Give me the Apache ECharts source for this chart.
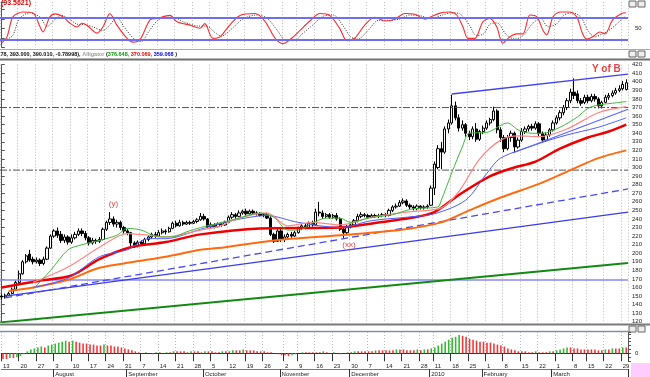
<!DOCTYPE html>
<html>
<head>
<meta charset="utf-8">
<script src="https://cdn.jsdelivr.net/npm/echarts@6/dist/echarts.min.js"></script>
<style>
html, body { margin: 0; padding: 0; background: #fff; }
#chart { width: 650px; height: 377px; }
</style>
</head>
<body>
<div id="chart"></div>
<script>
// daily candles [open, close, low, high]
var candles = [
  [150,149,146,152],[149,151,147,153],[151,153,150,155],[153,158,152,160],[158,166,157,168],[166,176,164,180],[176,190,175,192],[190,197,188,199],[199,192,190,204],[193,190,187,196],
  [190,192,188,195],[192,188,185,194],[188,193,186,196],[193,206,192,208],[206,220,205,222],[220,226,218,228],[226,221,218,230],[222,215,212,226],[215,219,212,222],[219,213,210,221],
  [213,218,211,222],[218,222,216,225],[222,226,220,229],[226,223,220,229],[223,218,215,226],[218,212,209,220],[212,215,210,218],[215,214,211,217],[214,216,212,219],[216,228,215,230],
  [228,236,226,238],[236,240,233,248],[240,234,231,243],[234,236,230,239],[236,230,227,238],[230,226,223,232],[226,224,221,228],[224,212,208,225],[212,209,206,214],[209,213,207,215],
  [213,211,209,215],[211,216,210,218],[216,219,214,221],[219,222,217,224],[222,220,218,225],[220,224,219,227],[224,226,222,229],[226,225,222,228],[225,229,224,231],[229,235,228,237],
  [235,232,230,238],[232,236,231,239],[236,234,232,238],[234,236,233,238],[236,235,233,238],[235,237,234,239],[237,239,235,241],[239,243,238,247],[243,240,238,246],[240,231,229,241],
  [231,233,229,236],[233,231,229,235],[231,234,230,236],[234,233,231,236],[233,236,232,238],[236,242,235,244],[242,245,240,248],[245,243,240,247],[243,247,242,250],[247,249,245,251],
  [249,246,244,252],[246,249,245,251],[249,247,245,251],[247,246,244,249],[246,244,243,248],[244,245,242,247],[245,241,240,247],[241,222,220,243],[222,214,212,224],[214,226,213,228],
  [226,216,213,229],[216,219,213,222],[219,222,217,224],[222,220,218,225],[220,224,219,226],[224,229,223,231],[229,232,227,234],[232,230,228,235],[230,235,229,237],[235,233,231,238],
  [233,248,232,252],[248,247,243,260],[247,243,240,250],[243,245,241,247],[245,242,240,247],[242,244,240,246],[244,240,238,247],[240,228,226,242],[228,224,218,230],[224,231,222,233],
  [231,233,229,236],[233,238,232,240],[238,243,236,246],[243,245,241,248],[245,244,242,247],[244,242,240,246],[242,244,241,246],[244,243,241,246],[243,244,241,246],[244,245,242,247],
  [245,244,242,247],[244,250,243,252],[250,254,248,256],[254,255,252,258],[255,259,254,262],[259,261,257,264],[261,256,254,263],[256,254,251,258],[254,252,250,256],[252,255,250,257],
  [255,253,251,256],[253,254,251,256],[254,255,252,257],[256,276,255,279],[276,304,268,307],[300,322,298,326],[322,318,298,330],[318,345,316,348],[345,352,340,356],[352,372,350,385],
  [372,358,355,377],[358,346,342,362],[346,350,343,355],[350,340,336,352],[340,336,332,343],[336,345,333,348],[345,333,330,352],[333,342,331,344],[342,346,339,349],[346,352,344,355],
  [352,356,349,358],[356,366,354,371],[366,344,340,368],[344,335,330,347],[335,322,318,338],[322,335,320,338],[335,340,330,343],[340,324,318,342],[324,332,322,335],[332,342,330,346],
  [342,345,339,348],[345,348,342,350],[348,346,343,351],[346,351,344,354],[351,340,336,353],[340,332,329,342],[332,338,330,341],[338,344,336,346],[344,352,342,355],[352,358,350,361],
  [358,364,355,367],[364,370,361,373],[370,378,367,381],[378,388,375,392],[388,384,380,404],[386,378,375,390],[378,375,372,381],[376,382,374,385],[382,378,375,385],[378,383,376,386],
  [383,380,377,386],[380,372,369,382],[372,376,369,378],[376,382,375,385],[382,384,379,387],[384,387,382,390],[387,390,385,393],[390,392,388,396],[392,397,390,401],[391,399,390,403]
];

// oscillator histogram (bottom panel)
var histValues = [
  -6,-6,-5,-5,-4,-3,-1,2,4,5,
  6,7,6,8,9,10,11,12,13,12,
  13,12,11,10,10,9,9,8,8,9,
  8,8,7,7,6,5,4,3,2,1,
  0,1,0,-1,1,1,0,1,1,2,
  2,2,2,1,2,2,2,1,2,2,
  2,1,1,2,2,2,3,3,3,4,
  3,3,3,2,2,2,1,1,0,-1,
  -2,-2,-3,-2,-1,0,1,1,1,1,
  1,1,2,1,0,1,0,-1,0,1,
  1,2,2,2,2,2,2,3,3,3,
  3,3,3,4,4,4,3,3,3,4,
  3,4,4,5,6,8,10,12,14,16,
  17,19,18,17,15,14,13,12,12,11,
  11,10,9,8,7,5,4,3,2,2,
  2,1,1,2,1,1,1,2,2,3,
  4,5,6,6,5,5,4,4,4,4,
  4,3,3,4,4,5,5,5,6,6
];

// moving averages, [day index, value]
var lipsGreen = [[9,158],[14,180],[19,204],[23,210],[28,215],[33,221],[36,229],[40,227],[45,219],[49,219],[53,225],[57,230],[62,235],[68,241],[74,247],[78,242],[82,227],[85,227],[89,235],[93,241],[97,241],[100,236],[105,241],[112,245],[118,252],[125,254],[126,262],[129,294],[132,324],[134,340],[139,341],[145,352],[148,344],[152,340],[155,340],[160,347],[165,359],[168,369],[171,373],[175,375],[179,377]];
var teethRed = [[9,166],[19,184],[28,207],[36,223],[42,221],[47,219],[57,227],[62,231],[66,238],[72,245],[76,247],[82,232],[89,236],[97,233],[106,242],[116,248],[126,253],[131,272],[137,310],[143,332],[148,337],[154,336],[162,345],[171,364],[179,371]];
var jawBlue = [[9,160],[19,171],[28,196],[36,204],[42,217],[47,217],[57,228],[66,238],[76,244],[85,236],[97,230],[106,238],[116,242],[124,246],[133,262],[139,293],[143,311],[154,328],[162,338],[171,347],[179,358]];
var maRed = [[0,160],[11,168],[20,174],[28,193],[37,207],[47,213],[57,222],[74,229],[97,230],[108,236],[117,241],[124,248],[131,268],[140,290],[146,299],[153,307],[160,322],[168,335],[174,342],[179,350]];
var maOrange = [[2,156],[9,160],[19,169],[28,183],[38,190],[47,196],[57,204],[62,206],[78,215],[97,221],[114,227],[126,236],[134,250],[143,265],[154,281],[163,297],[171,311],[179,320]];

// drawn trend lines and levels
var channelTop = [[129,385.8],[179.5,409]];
var channelLow = [[146.5,317],[179.5,368]];
var trendSolid = [[1,150],[179.5,248]];
var trendDash = [[1,148],[179.5,275]];
var trendGreen = [[-0.5,119.2],[179.5,188.7]];
var supportLevel = 168.8;
var fibLevels = [370, 297];

// stochastic %K / %D
var stochK = [[0,12],[1.5,28],[3.2,81],[6.1,94],[9,91],[11,54],[11.8,41],[13.8,81],[15.3,89],[17.6,81],[19.6,64],[21.6,54],[23,64],[24.4,59],[27.3,38],[29,54],[31,90],[33,59],[35.9,24],[37.6,14],[39.6,20],[42.5,73],[44.5,77],[48.2,85],[50.2,68],[54,59],[56.8,51],[58.2,63],[60.5,24],[62.5,28],[65.4,60],[68.3,85],[72.6,90],[75.4,70],[78.3,25],[80.6,10],[83.2,25],[85.5,45],[88.3,70],[91.2,90],[94,85],[96.9,50],[98.9,18],[101.2,25],[104.1,60],[107,80],[109.8,70],[112.7,75],[115.5,90],[118.4,88],[121.3,75],[122.7,80],[125.6,91],[128.4,94],[130.4,86],[132.2,54],[133.6,24],[135.6,24],[137.9,68],[139.9,77],[141.9,54],[143.6,11],[145.6,28],[147.6,36],[149.4,36],[151.4,86],[153.4,81],[155.1,46],[156.2,33],[158,81],[160,94],[162.8,94],[164.8,81],[166.5,36],[167.7,22],[169.4,28],[171.4,41],[172.9,36],[175.1,73],[177.7,90],[178.9,92]];
var stochD = [[0,18],[3,30],[5,75],[8,92],[11,80],[13,55],[15,72],[17,85],[19,78],[21.5,62],[24,60],[26,55],[29,45],[31,60],[33,80],[35,55],[38,22],[40,16],[42,40],[44.5,70],[47,80],[50,78],[52,68],[56,57],[59,56],[61,40],[63,30],[66,50],[69,75],[73,86],[76,78],[79,45],[81.5,18],[84,18],[86,35],[89,58],[92,82],[95,86],[98,55],[100,28],[102,22],[105,45],[108,72],[111,72],[114,75],[117,86],[120,84],[123,76],[126,85],[129,92],[131.5,88],[134,60],[136,32],[138,35],[140,62],[142,65],[144.5,35],[147,22],[149.5,32],[152,62],[154.5,78],[156.5,55],[159,62],[161,85],[163.5,92],[166,80],[168,45],[170,28],[172,35],[174,45],[176,60],[178.5,82]];
var stochLevels = [80, 20];

// x axis labels
var weekLabels = ['13','20','27','3','10','17','24','31','7','14','21','28','5','12','19','26','2','9','16','23','30','7','14','21','28','11','18','25','1','8','15','22','1','8','15','22','29'];
var weekStarts = [0,5,10,15,20,25,30,35,40,45,50,55,60,65,70,75,81,85,90,95,100,105,110,115,120,124,129,134,139,144,149,154,159,164,168,173,178];
var monthLabels = ['August','September','October','November','December','2010','February','March'];
var monthStarts = [15,36,58,80,100,123,138,158];

// annotations
var notes = [
  { text: 'Y of B', day: 173.3, value: 414.4, size: 10, weight: 'bold' },
  { text: '(y)', day: 32, value: 258, size: 8, weight: 'normal' },
  { text: '(xx)', day: 99.5, value: 210, size: 8, weight: 'normal' }
];

var N = candles.length;
var days = [];
var months = [];
for (var i = 0; i < N; i++) { days.push(''); months.push(''); }
weekStarts.forEach(function (d, k) { days[d] = weekLabels[k]; });
monthStarts.forEach(function (d, k) { months[d] = monthLabels[k]; });

var FONT = '"Liberation Sans", Arial, sans-serif';
var isMark = function (idx, val) { return val !== ''; };
var dotted = { show: true, interval: isMark, lineStyle: { color: '#b8b8b8', type: [1, 2], width: 1 } };

function catAxis(grid, data) {
  return {
    type: 'category', gridIndex: grid, data: data, boundaryGap: true,
    axisLine: { show: false }, axisTick: { show: false }, axisLabel: { show: false },
    splitLine: dotted
  };
}
function valAxis(grid) {
  return { type: 'value', gridIndex: grid, min: -0.5, max: N - 0.5, show: false };
}
function lineSeries(data, color, width, type, x, y, smooth) {
  return {
    type: 'line', xAxisIndex: x, yAxisIndex: y, data: data, symbol: 'none',
    smooth: smooth || false, silent: true,
    lineStyle: { color: color, width: width, type: type || 'solid' }
  };
}

var chart = echarts.init(document.getElementById('chart'), null, { renderer: 'canvas' });

var series = [];
// stochastic panel
series.push(lineSeries(stochD, '#333', 1, [1, 1.5], 1, 0, 0.3));
var kSeries = lineSeries(stochK, '#ff2b2b', 1.1, 'solid', 1, 0, 0.3);
kSeries.markLine = {
  silent: true, symbol: 'none', label: { show: false },
  lineStyle: { color: '#6e6ef5', width: 2, type: 'solid' },
  data: stochLevels.map(function (v) { return { yAxis: v }; })
};
series.push(kSeries);

// main panel: levels and trend lines
series.push(lineSeries([[-0.5, supportLevel], [N - 0.5, supportLevel]], '#8a8af8', 1.5, 'solid', 3, 1));
fibLevels.forEach(function (v) {
  series.push(lineSeries([[-0.5, v], [N - 0.5, v]], '#555', 1, [7, 2, 2, 2], 3, 1));
});
series.push(lineSeries(trendGreen, '#128a12', 2, 'solid', 3, 1));
series.push(lineSeries(trendSolid, '#3b3bea', 1.3, 'solid', 3, 1));
series.push(lineSeries(trendDash, '#4a4af0', 1.3, [7, 4], 3, 1));
series.push(lineSeries(maOrange, '#ff6a10', 2, 'solid', 3, 1, 0.3));
series.push(lineSeries(maRed, '#ee0000', 2.5, 'solid', 3, 1, 0.3));
series.push({
  type: 'candlestick', xAxisIndex: 2, yAxisIndex: 1, data: candles, barWidth: 2.8, silent: true,
  itemStyle: { color: '#fff', color0: '#000', borderColor: '#000', borderColor0: '#000', borderWidth: 1 }
});
series.push(lineSeries(jawBlue, '#4d5cff', 1, 'solid', 3, 1, 0.3));
series.push(lineSeries(teethRed, '#ff8585', 1.2, 'solid', 3, 1, 0.3));
series.push(lineSeries(lipsGreen, '#3dbb3d', 1, 'solid', 3, 1, 0.3));
series.push(lineSeries(channelTop, '#4141ee', 1.3, 'solid', 3, 1));
series.push(lineSeries(channelLow, '#5a66ff', 1.2, 'solid', 3, 1));
series.push({
  type: 'scatter', xAxisIndex: 3, yAxisIndex: 1, symbolSize: 0, silent: true,
  data: notes.map(function (n) {
    return {
      value: [n.day, n.value],
      label: { show: true, position: 'inside', formatter: n.text, color: '#e01010',
        fontSize: n.size, fontWeight: n.weight, fontFamily: FONT }
    };
  })
});

// histogram panel
series.push({
  type: 'bar', xAxisIndex: 4, yAxisIndex: 2, data: histValues, barWidth: 1.6, silent: true,
  itemStyle: {
    color: function (p) {
      var i = p.dataIndex;
      return (i > 0 && histValues[i] > histValues[i - 1]) ? '#35b935' : '#f03a3a';
    }
  }
});

var boxes = [];
[1, 51, 326].forEach(function (y) {
  [629, 638].forEach(function (x) {
    boxes.push({ type: 'rect', shape: { x: x, y: y, width: 7, height: 6 },
      style: { fill: '#eee', stroke: '#666', lineWidth: 1 }, silent: true });
  });
});

chart.setOption({
  animation: false,
  backgroundColor: '#fff',
  textStyle: { fontFamily: FONT },
  grid: [
    { left: 0, right: 22, top: 2.2, height: 45.2 },
    { left: 0, right: 22, top: 64.7, height: 257.1 },
    { left: 0, right: 22, top: 332, height: 30 }
  ],
  xAxis: [
    catAxis(0, days),
    valAxis(0),
    catAxis(1, days),
    valAxis(1),
    {
      type: 'category', gridIndex: 2, data: days, boundaryGap: true,
      axisLine: { show: true, lineStyle: { color: '#333', width: 1 } },
      axisTick: { show: true, interval: isMark, length: 8, lineStyle: { color: '#333' } },
      axisLabel: { interval: 0, align: 'left', margin: 2, fontSize: 6, color: '#222' },
      splitLine: dotted
    },
    {
      type: 'category', gridIndex: 2, data: months, boundaryGap: true, position: 'bottom', offset: 8,
      axisLine: { show: true, lineStyle: { color: '#777', width: 1 } },
      axisTick: { show: true, interval: isMark, length: 8, lineStyle: { color: '#333' } },
      axisLabel: { interval: 0, align: 'left', margin: 2, fontSize: 6, color: '#222' },
      splitLine: { show: false }
    }
  ],
  yAxis: [
    {
      type: 'value', gridIndex: 0, position: 'right', min: 0, max: 120, interval: 25,
      axisLine: { show: true, lineStyle: { color: '#555' } },
      axisTick: { show: true, length: 3, lineStyle: { color: '#555' } },
      axisLabel: { fontSize: 6, color: '#222', margin: 7, formatter: function (v) { return v === 50 ? '50' : ''; } },
      splitLine: { show: false }
    },
    {
      type: 'value', gridIndex: 1, position: 'right', min: 120, max: 420, interval: 10,
      axisLine: { show: true, lineStyle: { color: '#555' } },
      axisTick: { show: true, length: 3, lineStyle: { color: '#555' } },
      axisLabel: { fontSize: 6, color: '#222', margin: 4 },
      splitLine: { show: false }
    },
    {
      type: 'value', gridIndex: 2, position: 'right', min: -8, max: 22, interval: 4,
      axisLine: { show: true, lineStyle: { color: '#555' } },
      axisTick: { show: true, length: 3, lineStyle: { color: '#555' } },
      axisLabel: { fontSize: 6, color: '#222', margin: 7, formatter: function (v) { return v === 0 ? '0' : ''; } },
      splitLine: { show: false }
    }
  ],
  graphic: [
    { type: 'line', shape: { x1: 0, y1: 49.5, x2: 650, y2: 49.5 }, style: { stroke: '#aaa', lineWidth: 1 }, silent: true },
    { type: 'line', shape: { x1: 0, y1: 59.5, x2: 650, y2: 59.5 }, style: { stroke: '#707070', lineWidth: 2 }, silent: true },
    { type: 'line', shape: { x1: 0, y1: 324.5, x2: 650, y2: 324.5 }, style: { stroke: '#7a7a7a', lineWidth: 2 }, silent: true },
    { type: 'line', shape: { x1: 0, y1: 331.5, x2: 628, y2: 331.5 }, style: { stroke: '#8a8aa8', lineWidth: 1.5 }, silent: true },
    { type: 'rect', shape: { x: 631, y: 363, width: 19, height: 14 }, style: { fill: '#ffccff' }, silent: true },
    {
      type: 'text', left: 1, top: 0, silent: true,
      style: { text: '(93.5621)', fill: '#dd0000', font: 'bold 7px ' + FONT }
    },
    {
      type: 'text', left: -1, top: 51.5, silent: true,
      style: {
        text: '{k|.78, 393.000, 390.010, -0.78998),} {a|Alligator} {k|(}{g|376.648,} {r|370.069,} {b|359.068} {k|)}',
        font: 'bold 5.5px "Liberation Sans Narrow", ' + FONT,
        rich: {
          k: { fill: '#111', font: 'bold 5.5px "Liberation Sans Narrow", ' + FONT },
          a: { fill: '#9a9a9a', font: 'bold 5.5px "Liberation Sans Narrow", ' + FONT },
          g: { fill: '#0a9a0a', font: 'bold 5.5px "Liberation Sans Narrow", ' + FONT },
          r: { fill: '#ee0000', font: 'bold 5.5px "Liberation Sans Narrow", ' + FONT },
          b: { fill: '#0000ee', font: 'bold 5.5px "Liberation Sans Narrow", ' + FONT }
        }
      }
    }
  ].concat(boxes),
  series: series
});
</script>
</body>
</html>
